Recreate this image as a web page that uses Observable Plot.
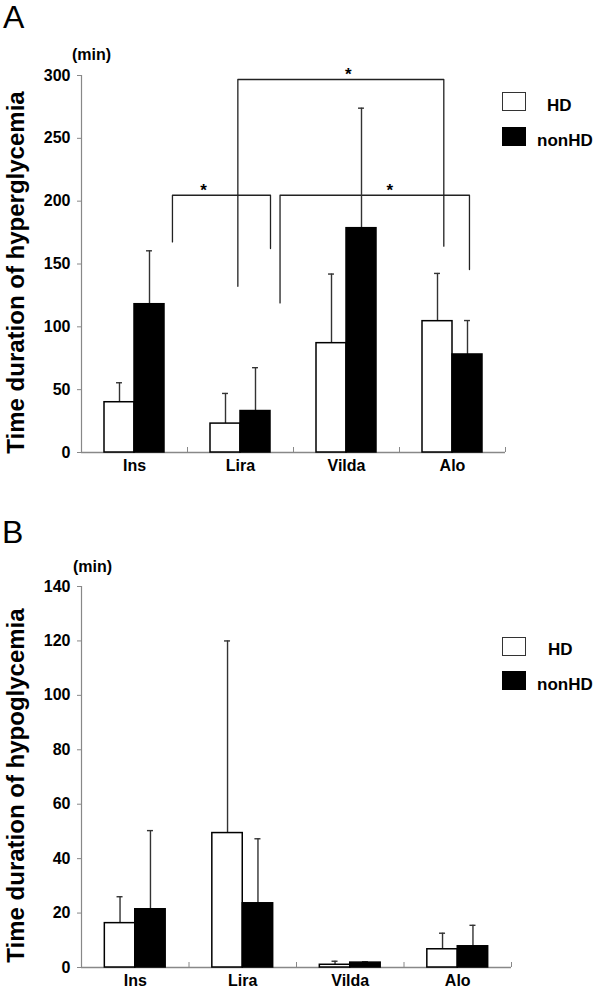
<!DOCTYPE html>
<html><head><meta charset="utf-8">
<script src="https://cdn.jsdelivr.net/npm/d3@7"></script>
<script src="https://cdn.jsdelivr.net/npm/@observablehq/plot@0.6"></script>
<style>
body{margin:0;background:#fff;font-family:"Liberation Sans",Arial,sans-serif;}
#root{position:relative;width:600px;height:995px;overflow:hidden;background:#fff;}
.abs{position:absolute;white-space:nowrap;line-height:1;color:#000;}
.box{position:absolute;width:24px;height:19px;border:1px solid #333;box-sizing:border-box;}
svg{overflow:visible;}
</style></head><body><div id="root"></div>
<script>
// ---------- data ----------
const categories = ["Ins", "Lira", "Vilda", "Alo"];
const groups = ["HD", "nonHD"];

// Panel A: hyperglycemia (min)
const hyperHD      = [40, 23, 87, 104.5];
const hyperHDErr   = [55.5, 47, 142, 142.5];
const hyperNon     = [118, 33, 178.5, 78];
const hyperNonErr  = [160.5, 67.5, 274, 105];
const hyperTicks   = [0, 50, 100, 150, 200, 250, 300];

// Panel B: hypoglycemia (min)
const hypoHD       = [16.3, 49.4, 1.0, 6.7];
const hypoHDErr    = [26, 120, 2.3, 12.6];
const hypoNon      = [21.4, 23.6, 1.8, 7.8];
const hypoNonErr   = [50.3, 47.3, 2.1, 15.5];
const hypoTicks    = [0, 20, 40, 60, 80, 100, 120, 140];

// Significance brackets in panel A (x in category units: 0 = left edge of "Ins", 4 = right edge of "Alo")
const bracketLeft     = [0.858, 1.475, 1.873];
const bracketRight    = [1.783, 3.418, 3.66];
const bracketTop      = [204.7, 296.8, 204.7];
const bracketLeftEnd  = [167.6, 132.3, 119.0];
const bracketRightEnd = [162.3, 164.2, 145.6];
const starX           = [1.151, 2.516, 2.908];
const starLabel       = ["*", "*", "*"];

const titleA = "Time duration of hyperglycemia";
const titleB = "Time duration of hypoglycemia";
const unitLabel = "(min)";

// ---------- drawing ----------
const BAR = 0.283;   // bar width as fraction of category band
const CAP = 0.028;   // half-width of error cap

function rowsFor(hd, hdErr, non, nonErr) {
  const rows = [];
  categories.forEach((c, i) => {
    rows.push({cat: c, group: groups[0], value: hd[i], err: hdErr[i], x1: i + 0.5 - BAR, x2: i + 0.5});
    rows.push({cat: c, group: groups[1], value: non[i], err: nonErr[i], x1: i + 0.5, x2: i + 0.5 + BAR});
  });
  rows.forEach(r => r.cx = (r.x1 + r.x2) / 2);
  return rows;
}

function panel({rows, ticks, max, height, marginTop, marginBottom, marginRight, title, extra = [], labelDy}) {
  return Plot.plot({
    width: 600, height, marginLeft: 81, marginRight, marginTop, marginBottom,
    style: {fontFamily: '"Liberation Sans", Arial, sans-serif', background: "white", color: "black"},
    x: {domain: [0, 4], axis: null},
    y: {domain: [0, max], axis: null},
    marks: [
      Plot.ruleX([0], {stroke: "#888", strokeWidth: 1.2}),
      Plot.ruleY([0], {stroke: "#888", strokeWidth: 1.5}),
      Plot.axisY(ticks, {anchor: "left", tickSize: 4, tickPadding: 7, fontSize: 16, fontWeight: "bold", stroke: "#888", fill: "black", label: null}),
      Plot.axisX([1, 2, 3, 4], {anchor: "bottom", tickSize: 5, dy: -5, tickFormat: () => "", stroke: "#888", label: null}),
      Plot.text(categories, {x: (d, i) => i + 0.5, frameAnchor: "bottom", dy: labelDy, fontSize: 16, fontWeight: "bold", fill: "black"}),
      Plot.text([title], {frameAnchor: "left", textAnchor: "middle", rotate: -90, dx: -65, dy: 8.5, fontSize: 24, fontWeight: "bold", fill: "black"}),
      ...extra,
      Plot.ruleX(rows, {x: "cx", y1: "value", y2: "err", stroke: "#333", strokeWidth: 1.4}),
      Plot.ruleY(rows, {y: "err", x1: d => d.cx - CAP, x2: d => d.cx + CAP, stroke: "#333", strokeWidth: 1.4}),
      Plot.rect(rows, {x1: "x1", x2: "x2", y1: 0, y2: "value", fill: d => d.group === "HD" ? "white" : "black", stroke: "black", strokeWidth: 1.5})
    ]
  });
}

const bracketPts = [];
bracketLeft.forEach((L, i) => {
  bracketPts.push({b: i, x: L, y: bracketLeftEnd[i]});
  bracketPts.push({b: i, x: L, y: bracketTop[i]});
  bracketPts.push({b: i, x: bracketRight[i], y: bracketTop[i]});
  bracketPts.push({b: i, x: bracketRight[i], y: bracketRightEnd[i]});
});

const plotA = panel({
  rows: rowsFor(hyperHD, hyperHDErr, hyperNon, hyperNonErr),
  ticks: hyperTicks, max: 300, height: 495, marginTop: 75, marginBottom: 43, marginRight: 95,
  title: titleA, labelDy: 18,
  extra: [
    Plot.line(bracketPts, {x: "x", y: "y", z: "b", stroke: "#222", strokeWidth: 1.3}),
    Plot.text(starX, {x: d => d, y: (d, i) => bracketTop[i], text: (d, i) => starLabel[i], dy: -5, fontSize: 17, fontWeight: "bold", fill: "black"})
  ]
});
const plotB = panel({
  rows: rowsFor(hypoHD, hypoHDErr, hypoNon, hypoNonErr),
  ticks: hypoTicks, max: 140, height: 500, marginTop: 91, marginBottom: 28, marginRight: 89,
  title: titleB, labelDy: 18.5
});

const root = document.getElementById("root");
function place(el, left, top) { el.style.position = "absolute"; el.style.left = left + "px"; el.style.top = top + "px"; root.appendChild(el); }
place(plotA, 0, 0);
place(plotB, 0, 495);

function text(str, left, baseline, size, weight) {
  const d = document.createElement("div");
  d.className = "abs";
  d.textContent = str;
  d.style.fontSize = size + "px";
  d.style.fontWeight = weight;
  d.style.left = left + "px";
  d.style.top = (baseline - 0.8465 * size) + "px";
  root.appendChild(d);
}
function box(left, top, fill) {
  const d = document.createElement("div");
  d.className = "box";
  d.style.left = left + "px"; d.style.top = top + "px"; d.style.background = fill;
  if (fill === "black") d.style.borderColor = "black";
  root.appendChild(d);
}

text("A", 3, 28, 32, "normal");
text("B", 2, 543, 32, "normal");
text(unitLabel, 72, 61, 16, "bold");
text(unitLabel, 73, 573, 16, "bold");

// legends
box(502, 92, "white"); box(502, 127, "black");
text(groups[0], 547, 111.5, 17, "bold");
text(groups[1], 537, 146, 17, "bold");
box(502, 637, "white"); box(502, 671, "black");
text(groups[0], 548, 655, 17, "bold");
text(groups[1], 537, 690, 17, "bold");
</script></body></html>
